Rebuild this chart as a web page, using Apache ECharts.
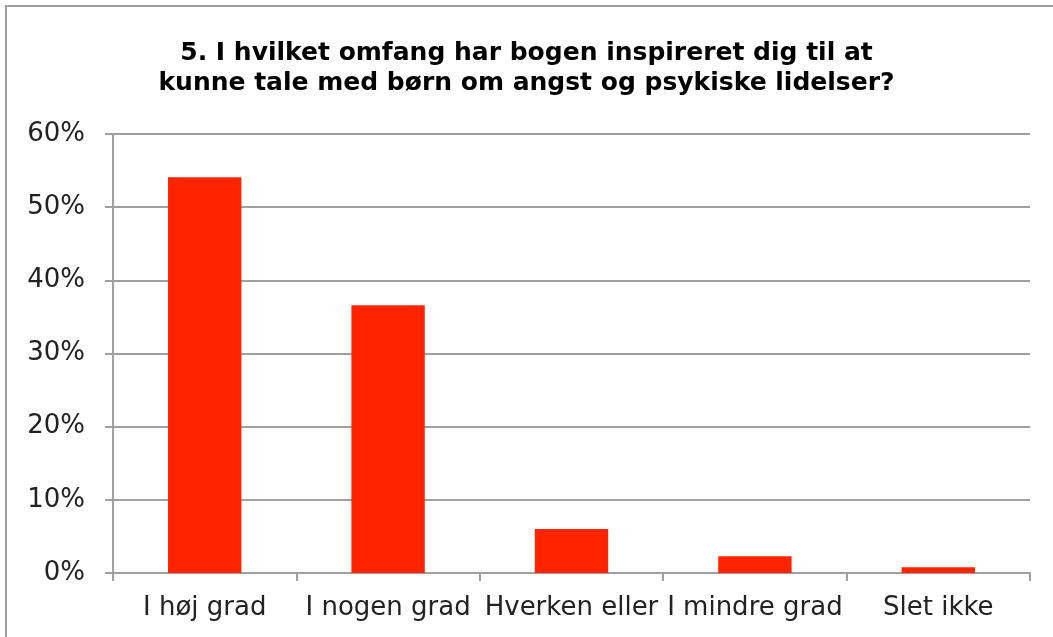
<!DOCTYPE html>
<html>
<head>
<meta charset="utf-8">
<script src="https://cdn.jsdelivr.net/npm/echarts@6/dist/echarts.min.js"></script>
<style>
  html, body { margin: 0; padding: 0; background: #fff; }
  #frame { position: absolute; left: 5px; top: 5px; width: 1100px; height: 700px;
           border-left: 2px solid #a0a0a0; border-top: 2px solid #a0a0a0; }
  #chart { position: absolute; left: 0; top: 0; width: 1053px; height: 637px; }
</style>
</head>
<body>
<div id="frame"></div>
<div id="chart"></div>
<script>
const categories = ['I høj grad', 'I nogen grad', 'Hverken eller', 'I mindre grad', 'Slet ikke'];
const values = [54.1, 36.6, 6.0, 2.3, 0.8];
const titleLines = ['5. I hvilket omfang har bogen inspireret dig til at', 'kunne tale med børn om angst og psykiske lidelser?'];

const myChart = echarts.init(document.getElementById('chart'));

const option = {
    animation: false,
    textStyle: { fontFamily: 'DejaVu Sans' },
    title: {
        text: titleLines.join('\n'),
        left: 'center',
        top: 33,
        textStyle: { fontSize: 25, fontWeight: 'bold', color: '#000', lineHeight: 30, fontFamily: 'DejaVu Sans' }
    },
    grid: { left: 113, right: 23, top: 134, bottom: 64 },
    xAxis: {
        type: 'category',
        data: categories,
        axisLine: { lineStyle: { color: '#a0a0a0', width: 2 } },
        axisTick: { show: true, length: 8, lineStyle: { color: '#a0a0a0', width: 2 } },
        axisLabel: { fontSize: 26, color: '#222', margin: 22, interval: 0 }
    },
    yAxis: {
        type: 'value',
        min: 0,
        max: 60,
        interval: 10,
        axisLine: { show: true, lineStyle: { color: '#a0a0a0', width: 2 } },
        axisTick: { show: true, length: 8, lineStyle: { color: '#a0a0a0', width: 2 } },
        splitLine: { lineStyle: { color: '#a0a0a0', width: 2 } },
        axisLabel: { fontSize: 26, color: '#222', margin: 28, padding: [8, 0, 0, 0], formatter: '{value}%' }
    },
    series: [
        {
            type: 'bar',
            data: values,
            barWidth: '40%',
            itemStyle: { color: '#ff2400' }
        }
    ]
};
myChart.setOption(option);
</script>
</body>
</html>
